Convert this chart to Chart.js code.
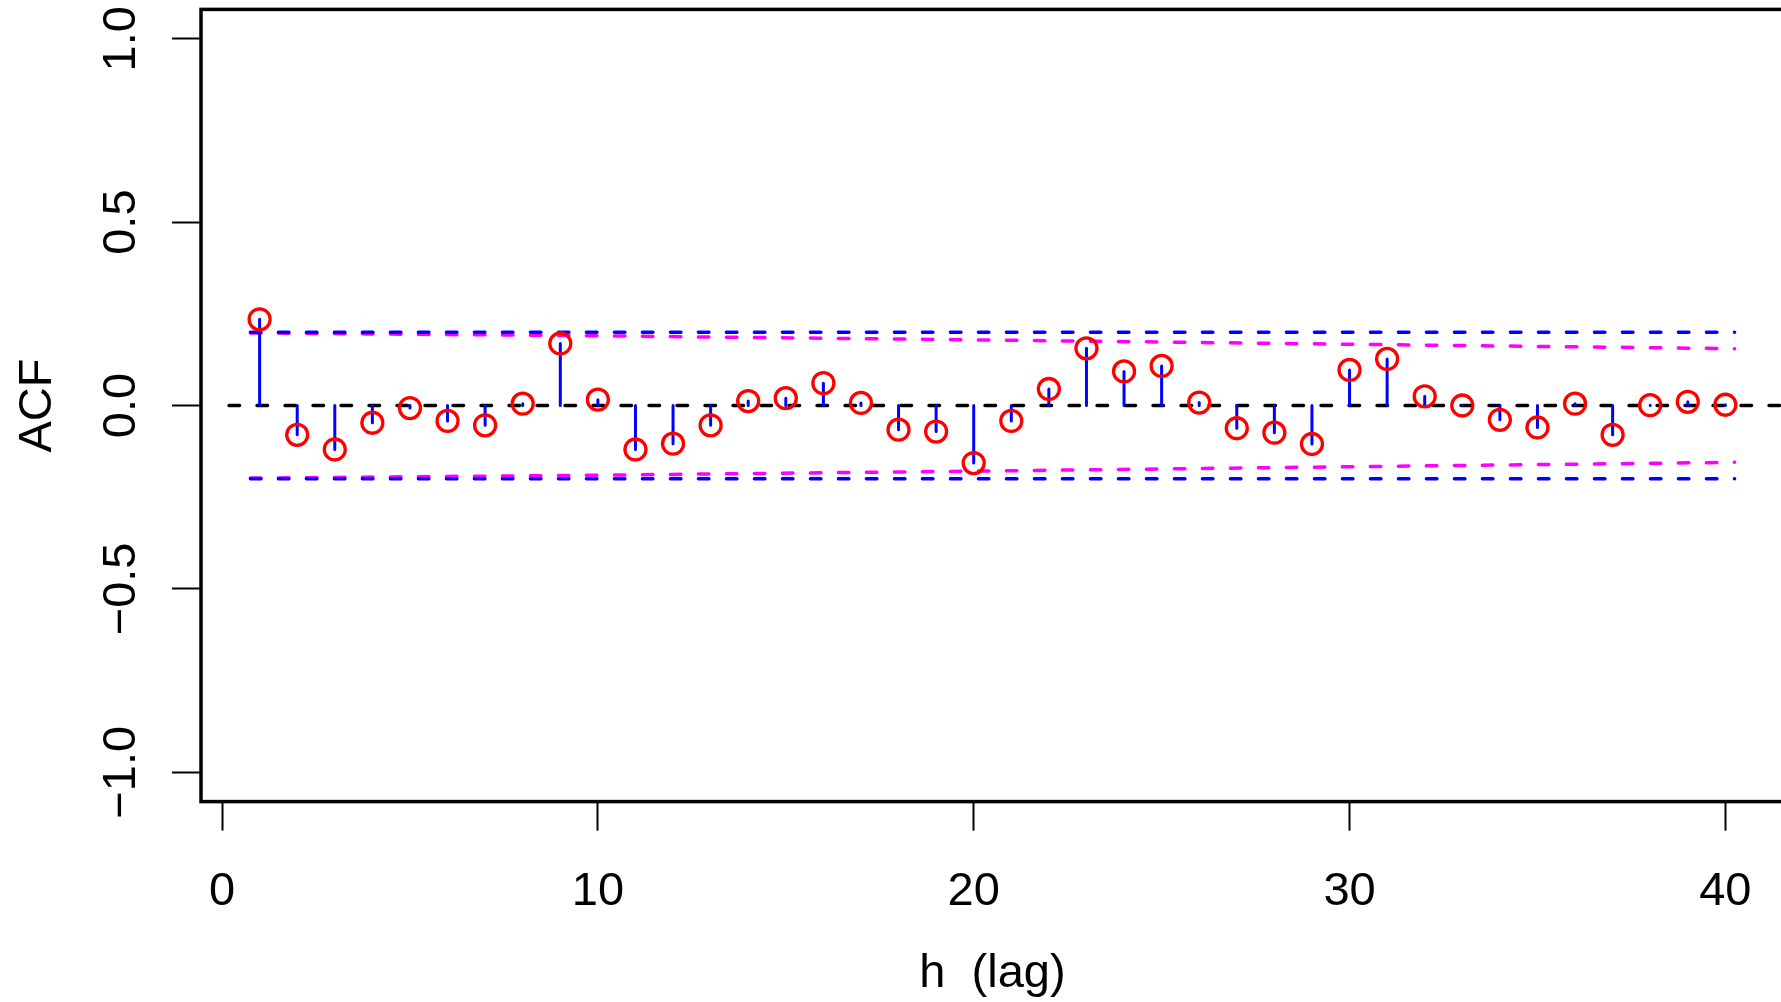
<!DOCTYPE html>
<html>
<head>
<meta charset="utf-8">
<script src="https://cdn.jsdelivr.net/npm/chart.js@4/dist/chart.umd.min.js"></script>
<style>
  html, body { margin: 0; padding: 0; background: #fff; width: 1781px; height: 1002px; overflow: hidden; }
  #wrap { width: 1800px; height: 1002px; }
</style>
</head>
<body>
<div id="wrap"><canvas id="grafico" width="1800" height="1002"></canvas></div>
<script>
// ACF amostral (lags 1..40) com bandas ±2/sqrt(n).

const lags = [1, 2, 3, 4, 5, 6, 7, 8, 9, 10, 11, 12, 13, 14, 15, 16, 17, 18, 19, 20,
  21, 22, 23, 24, 25, 26, 27, 28, 29, 30, 31, 32, 33, 34, 35, 36, 37, 38, 39, 40];
const acf = [0.235, -0.080, -0.120, -0.047, -0.007, -0.042, -0.054, 0.005, 0.169, 0.016,
  -0.120, -0.104, -0.054, 0.012, 0.020, 0.061, 0.007, -0.066, -0.071, -0.157,
  -0.042, 0.045, 0.156, 0.093, 0.108, 0.008, -0.062, -0.074, -0.105, 0.097,
  0.127, 0.025, 0.000, -0.039, -0.060, 0.005, -0.080, 0.001, 0.010, 0.002];

// bandas: azul constante, magenta decrescente com o lag
const lagsBanda = [0.755, 10, 20, 30, 40.245];
const azulSup = [0.2, 0.2, 0.2, 0.2, 0.2];
const azulInf = [-0.2, -0.2, -0.2, -0.2, -0.2];
const magentaSup = [0.198, 0.190, 0.179, 0.167, 0.155];
const magentaInf = [-0.198, -0.190, -0.179, -0.167, -0.155];

// linha de referência em zero
const zeroX = [0.186, 41.56];
const zeroY = [0, 0];

const xTicks = [0, 10, 20, 30, 40];
const yTicks = [-1, -0.5, 0, 0.5, 1];
const yTickLabels = ['\u22121.0', '\u22120.5', '0.0', '0.5', '1.0'];
const xLimites = [-0.56, 41.56];
const yLimites = [-1.08, 1.08];

const FONTE = '47px "Liberation Sans", Arial, Helvetica, sans-serif';
const TRACO = [10.5, 17.5];

const pontos = (xs, ys) => xs.map((x, i) => ({ x, y: ys[i] }));
const hastes = lags.flatMap((h, i) => [{ x: h, y: 0 }, { x: h, y: acf[i] }, { x: h, y: null }]);

function linha(data, cor, ordem, tracejado) {
  return {
    data, showLine: true, borderColor: cor, borderWidth: tracejado ? 3.5 : 3, pointRadius: 0,
    borderDash: tracejado ? TRACO : [], borderCapStyle: 'round', spanGaps: false,
    order: ordem, fill: false, tension: 0,
  };
}

// Moldura, rótulos dos eixos e títulos desenhados sobre as escalas do Chart.js
const textos = {
  id: 'textos',
  afterDraw(chart) {
    const { ctx, chartArea: a, scales: { x, y } } = chart;
    ctx.save();
    ctx.strokeStyle = '#000';
    ctx.lineWidth = 3.5;
    ctx.strokeRect(a.left, a.top, a.right - a.left, a.bottom - a.top);

    ctx.fillStyle = '#000';
    ctx.font = FONTE;
    ctx.textAlign = 'center';
    ctx.textBaseline = 'alphabetic';
    xTicks.forEach((v) => ctx.fillText(String(v), x.getPixelForValue(v), 905));
    ctx.fillText('h  (lag)', (a.left + a.right) / 2, 987);

    yTicks.forEach((v, i) => {
      ctx.save();
      ctx.translate(135, y.getPixelForValue(v));
      ctx.rotate(-Math.PI / 2);
      ctx.fillText(yTickLabels[i], 0, 0);
      ctx.restore();
    });
    ctx.save();
    ctx.translate(51, (a.top + a.bottom) / 2);
    ctx.rotate(-Math.PI / 2);
    ctx.fillText('ACF', 0, 0);
    ctx.restore();
    ctx.restore();
  },
};

const eixo = (lim, ticks, extra) => ({
  type: 'linear', min: lim[0], max: lim[1],
  afterBuildTicks: (s) => { s.ticks = ticks.map((value) => ({ value })); },
  ticks: { display: false },
  border: { display: false },
  grid: { drawOnChartArea: false, drawTicks: true, tickLength: 29, tickColor: '#000', tickWidth: 2 },
  ...extra,
});

new Chart(document.getElementById('grafico'), {
  type: 'scatter',
  data: {
    datasets: [
      {
        data: pontos(lags, acf), pointRadius: 10.5, pointBorderWidth: 3.3, pointHoverRadius: 10.5,
        pointBorderColor: '#FF0000', pointBackgroundColor: 'rgba(0,0,0,0)', showLine: false, order: 1,
      },
      linha(hastes, '#0000FF', 2, false),
      linha(pontos(zeroX, zeroY), '#000000', 3, true),
      linha(pontos(lagsBanda, azulSup), '#0000FF', 4, true),
      linha(pontos(lagsBanda, azulInf), '#0000FF', 4, true),
      linha(pontos(lagsBanda, magentaSup), '#FF00FF', 5, true),
      linha(pontos(lagsBanda, magentaInf), '#FF00FF', 5, true),
    ],
  },
  options: {
    responsive: false, animation: false, devicePixelRatio: 1,
    layout: { autoPadding: false, padding: { top: 9.4, right: 16, bottom: 0, left: 0 } },
    plugins: { legend: { display: false }, tooltip: { enabled: false } },
    scales: {
      x: eixo(xLimites, xTicks, { position: 'bottom', afterFit: (s) => { s.height = 200.4; } }),
      y: eixo(yLimites, yTicks, { position: 'left', afterFit: (s) => { s.width = 201; } }),
    },
  },
  plugins: [textos],
});
</script>
</body>
</html>
